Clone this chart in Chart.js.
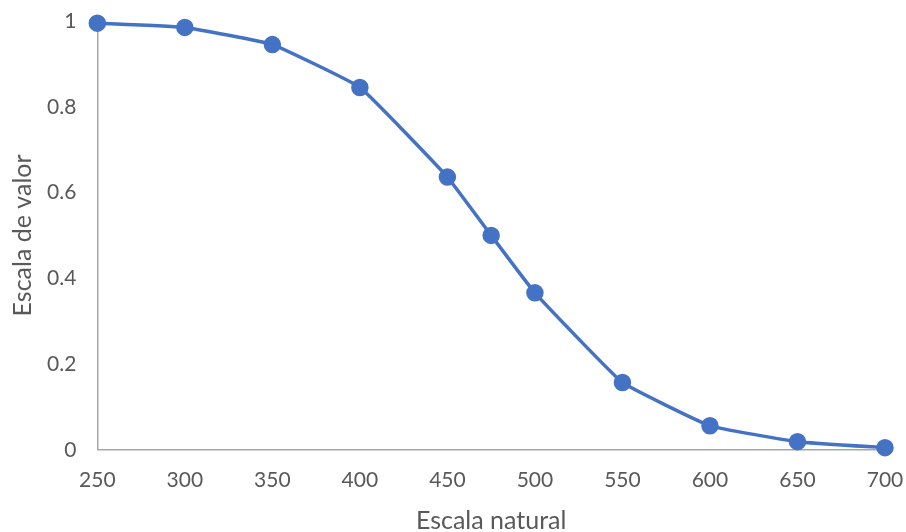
<!DOCTYPE html>
<html>
<head>
<meta charset="utf-8">
<script src="https://cdn.jsdelivr.net/npm/chart.js@4"></script>
<style>
  html, body { margin: 0; padding: 0; background: #fff; }
  #wrap { width: 906px; height: 532px; }
</style>
</head>
<body>
<div id="wrap"><canvas id="myChart" width="906" height="532"></canvas></div>
<script>
// escala natural vs escala de valor
const escalaNatural = [250, 300, 350, 400, 450, 475, 500, 550, 600, 650, 700];
const escalaValor = [0.995, 0.985, 0.945, 0.845, 0.636, 0.5, 0.366, 0.157, 0.056, 0.019, 0.005];
const xTicks = [250, 300, 350, 400, 450, 500, 550, 600, 650, 700];
const yTicks = [0, 0.2, 0.4, 0.6, 0.8, 1];

const points = escalaNatural.map((x, i) => ({ x: x, y: escalaValor[i] }));

const axisFont = { family: 'Lato', size: 21 };
const titleFont = { family: 'Lato', size: 25 };

const config = {
    type: 'line',
    data: {
        datasets: [{
            data: points,
            borderColor: '#4472C4',
            backgroundColor: '#4472C4',
            borderWidth: 3.5,
            pointRadius: 7,
            pointHoverRadius: 7,
            tension: 0.1,
            clip: false,
            fill: false
        }]
    },
    options: {
        responsive: false,
        animation: false,
        layout: { padding: { left: 8, right: 21, top: 21, bottom: -4 } },
        plugins: { legend: { display: false }, tooltip: { enabled: false } },
        scales: {
            x: {
                type: 'linear',
                min: 250,
                max: 700,
                afterBuildTicks: axis => { axis.ticks = xTicks.map(v => ({ value: v })); },
                // the tick padding should not push the plot area in from the sides
                afterFit: axis => { axis.paddingLeft = 0; axis.paddingRight = 0; },
                grid: { display: false, drawTicks: false },
                border: { display: true, color: '#a6a6a6', width: 1.5 },
                ticks: { color: '#595959', font: axisFont, padding: 18 },
                title: { display: true, text: 'Escala natural', color: '#595959', font: titleFont, padding: { top: -5, bottom: 0 } }
            },
            y: {
                min: 0,
                max: 1,
                afterBuildTicks: axis => { axis.ticks = yTicks.map(v => ({ value: v })); },
                afterFit: axis => { axis.paddingTop = 0; },
                grid: { display: false, drawTicks: false },
                border: { display: true, color: '#a6a6a6', width: 1.5 },
                ticks: { color: '#595959', font: axisFont, padding: 21, callback: v => String(v) },
                title: { display: true, text: 'Escala de valor', color: '#595959', font: titleFont, padding: { top: 0, bottom: -12 } }
            }
        }
    }
};

new Chart(document.getElementById('myChart'), config);
</script>
</body>
</html>
